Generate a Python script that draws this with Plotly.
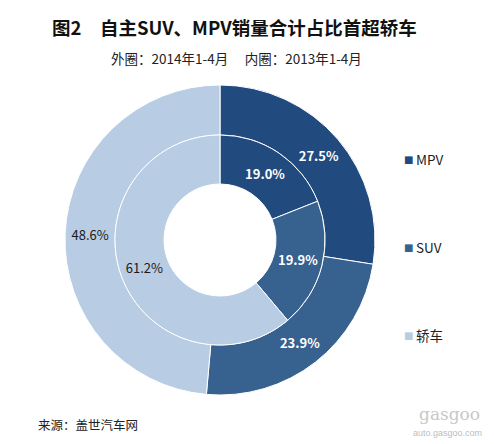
import plotly.graph_objects as go

categories = ["MPV", "SUV", "轿车"]
outer_values = [27.5, 23.9, 48.6]   # 2014年1-4月
inner_values = [19.0, 19.9, 61.2]   # 2013年1-4月
colors = ["#214a7e", "#37618f", "#b8cce4"]
text_colors = ["white", "white", "#1a1a1a"]

W, H = 494, 444
cx, cy = 220, 240          # pixel centre (from top)
r_outer, r_mid, r_hole = 155, 105, 56


def dom(r):
    return dict(x=[(cx - r) / W, (cx + r) / W],
                y=[(H - cy - r) / H, (H - cy + r) / H])


def labels_for(vals):
    out = []
    for v, c in zip(vals, text_colors):
        s = f"{v:.1f}%"
        out.append(f"<b>{s}</b>" if c == "white" else s)
    return out


FONT = "Noto Sans CJK SC, Noto Sans, sans-serif"

fig = go.Figure()
fig.add_trace(go.Pie(
    labels=categories, values=outer_values, text=labels_for(outer_values),
    textinfo="text", textposition="inside", insidetextorientation="horizontal",
    hole=r_mid / r_outer, domain=dom(r_outer), sort=False, direction="clockwise",
    rotation=0, marker=dict(colors=colors, line=dict(color="white", width=1)),
    textfont=dict(color=text_colors, size=13, family=FONT), showlegend=False,
))
fig.add_trace(go.Pie(
    labels=categories, values=inner_values, text=labels_for(inner_values),
    textinfo="text", textposition="inside", insidetextorientation="horizontal",
    hole=r_hole / r_mid, domain=dom(r_mid), sort=False, direction="clockwise",
    rotation=0, marker=dict(colors=colors, line=dict(color="white", width=1)),
    textfont=dict(color=text_colors, size=13, family=FONT), showlegend=False,
))

annotations = [
    dict(text="<b>图2　自主SUV、MPV销量合计占比首超轿车</b>", x=234 / W, y=1 - 27 / H,
         xref="paper", yref="paper", showarrow=False, xanchor="center", yanchor="middle",
         font=dict(size=18.5, color="#111111", family=FONT)),
    dict(text="外圈：2014年1-4月　 内圈：2013年1-4月", x=236 / W, y=1 - 58 / H,
         xref="paper", yref="paper", showarrow=False, xanchor="center", yanchor="middle",
         font=dict(size=13.5, color="#222222", family=FONT)),
    dict(text="来源：盖世汽车网", x=36 / W, y=1 - 424 / H,
         xref="paper", yref="paper", showarrow=False, xanchor="left", yanchor="middle",
         font=dict(size=12.5, color="#222222", family=FONT)),
    dict(text="gasgoo", x=482 / W, y=1 - 414 / H,
         xref="paper", yref="paper", showarrow=False, xanchor="right", yanchor="middle",
         font=dict(size=17, color="#c8c8c8", family="DejaVu Serif")),
    dict(text="auto.gasgoo.com", x=484 / W, y=1 - 433 / H,
         xref="paper", yref="paper", showarrow=False, xanchor="right", yanchor="middle",
         font=dict(size=9, color="#bdbdbd", family="Liberation Sans")),
]

legend_y = [159, 247, 335]
for cat, col, ly in zip(categories, colors, legend_y):
    annotations.append(dict(text="■", x=402 / W, y=1 - ly / H, xref="paper", yref="paper",
                            showarrow=False, xanchor="left", yanchor="middle",
                            font=dict(size=10, color=col, family="DejaVu Sans")))
    annotations.append(dict(text=cat, x=414 / W, y=1 - ly / H, xref="paper", yref="paper",
                            showarrow=False, xanchor="left", yanchor="middle",
                            font=dict(size=13.5, color="#222222", family=FONT)))

fig.update_layout(
    width=W, height=H, margin=dict(l=0, r=0, t=0, b=0),
    paper_bgcolor="white", plot_bgcolor="white",
    annotations=annotations, showlegend=False,
)

fig.write_html("out.html", config={"displayModeBar": False},
               post_script="document.body.style.margin='0';document.body.style.padding='0';")
